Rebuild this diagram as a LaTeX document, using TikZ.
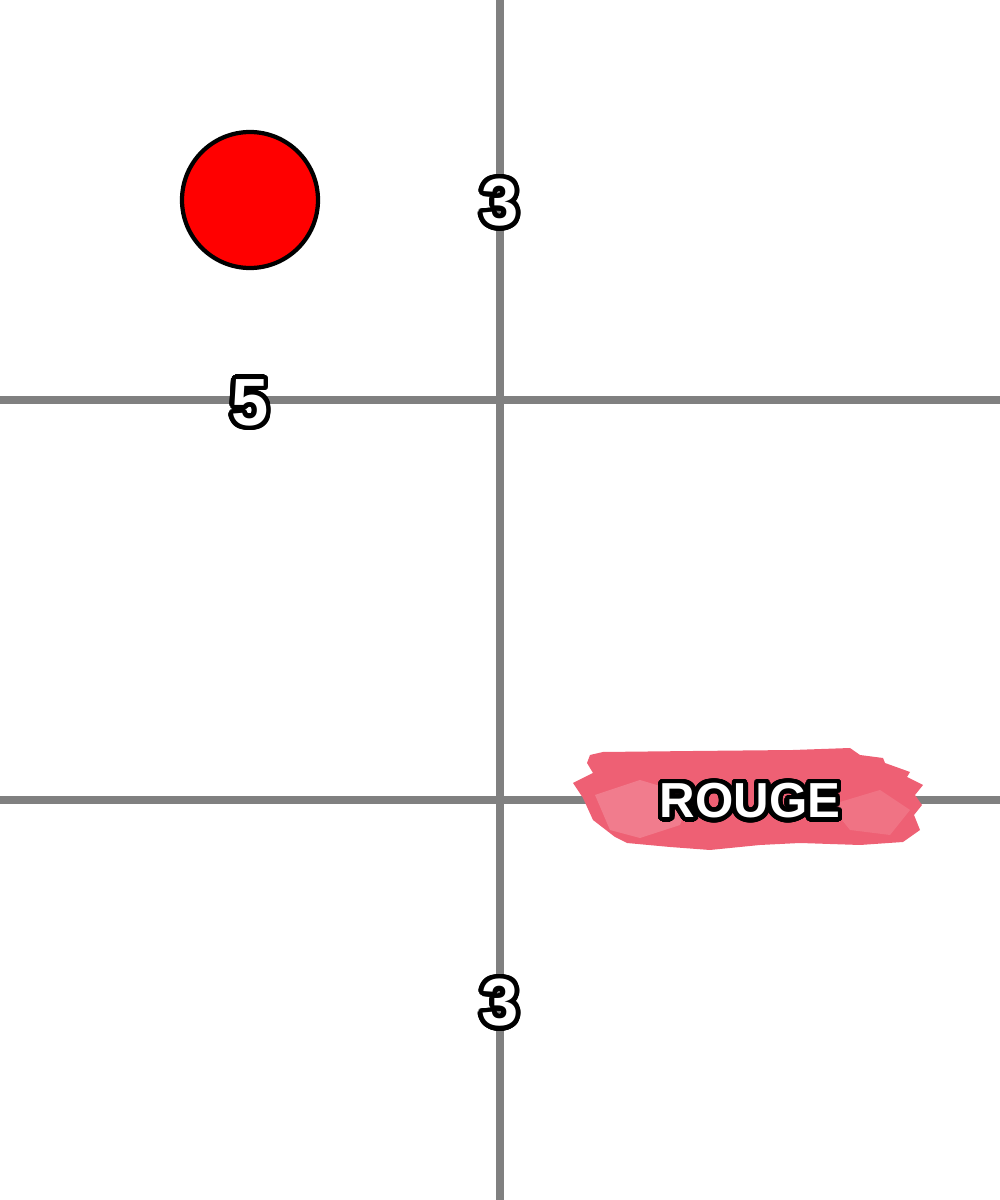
\documentclass[tikz,border=0pt]{standalone}
\usepackage{fontspec}
\setmainfont{Liberation Sans}
\usepackage{contour}
\contourlength{1.3pt}
\contournumber{40}
\definecolor{gridgray}{RGB}{128,128,128}
\definecolor{brushpink}{RGB}{238,96,116}
\definecolor{brushlight}{RGB}{246,160,172}
\tikzset{
    gridline/.style={gridgray, line width=2pt},
    numlabel/.style={text=white, inner sep=0pt, font=\bfseries\fontsize{19}{19}\selectfont},
    wordlabel/.style={text=white, inner sep=0pt, font=\bfseries\fontsize{14}{14}\selectfont},
}
\begin{document}
\begin{tikzpicture}
    \useasboundingbox (0, 0) rectangle (10, 12);

    % Grid: one vertical line, two horizontal lines
    \draw[gridline] (5, 0) -- (5, 12);
    \foreach \y in {8, 4} {
        \draw[gridline] (0, \y) -- (10, \y);
    }

    % Brush stroke behind the word
    \fill[brushpink] (5.90, 4.45) -- (6.03, 4.48) -- (6.93, 4.49) -- (7.93, 4.50) -- (8.50, 4.52)
        -- (8.60, 4.45) -- (8.83, 4.42) -- (8.85, 4.37) -- (9.10, 4.28) -- (9.07, 4.23)
        -- (9.23, 4.15) -- (9.15, 4.05) -- (9.22, 3.95) -- (9.14, 3.85) -- (9.20, 3.70)
        -- (9.03, 3.58) -- (8.60, 3.55) -- (8.00, 3.57) -- (7.60, 3.55) -- (7.10, 3.50)
        -- (6.70, 3.53) -- (6.27, 3.57) -- (6.15, 3.63) -- (5.93, 3.80) -- (5.83, 4.02)
        -- (5.73, 4.17) -- (5.93, 4.27) -- (5.87, 4.37) -- cycle;
    \fill[brushlight, opacity=0.45] (5.95, 4.05) -- (6.40, 4.20) -- (6.90, 4.05) -- (6.80, 3.75)
        -- (6.40, 3.62) -- (6.10, 3.70) -- cycle;
    \fill[brushlight, opacity=0.3] (8.30, 3.95) -- (8.80, 4.10) -- (9.10, 3.90) -- (8.90, 3.65)
        -- (8.50, 3.70) -- cycle;

    % Labels
    \node[numlabel] (top3) at (5, 9.95) {\contour{black}{3}};
    \node[numlabel] (five) at (2.5, 7.95) {\contour{black}{5}};
    \node[numlabel] (bottom3) at (5, 1.95) {\contour{black}{3}};
    \node[wordlabel] (rouge) at (7.5, 3.97) {\contour{black}{ROUGE}};

    % Red disc
    \draw[fill=red, line width=1.2pt] (2.5, 10) circle (0.68);
\end{tikzpicture}
\end{document}
